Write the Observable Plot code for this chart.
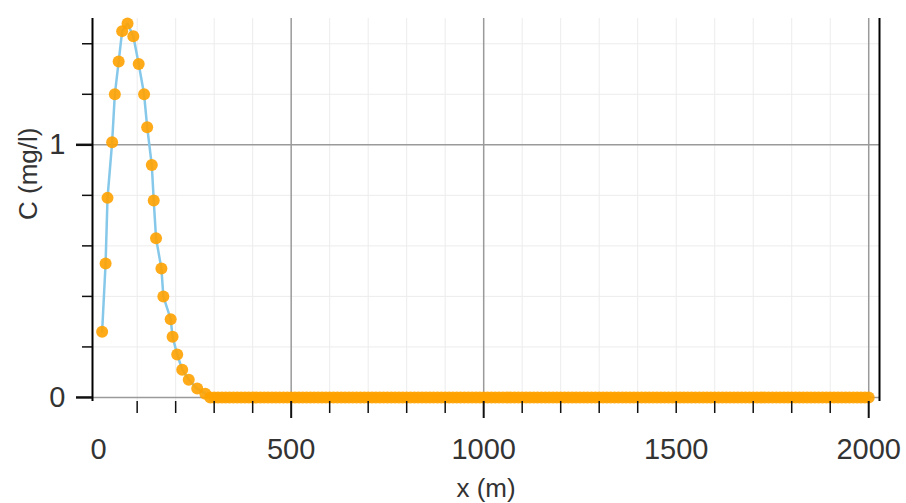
<!DOCTYPE html>
<html>
<head>
<meta charset="utf-8">
<script src="https://cdn.jsdelivr.net/npm/d3@7"></script>
<script src="https://cdn.jsdelivr.net/npm/@observablehq/plot@0.6"></script>
<style>
  html, body { margin: 0; padding: 0; background: white; }
  #chart { width: 906px; height: 503px; overflow: hidden; }
</style>
</head>
<body>
<div id="chart"></div>
<script>
// Concentration profile C (mg/l) vs distance x (m)
const curveX = [9, 18, 23, 35, 42, 52, 61, 75, 90, 104, 118, 126, 138, 143, 149, 163, 168, 187, 192, 204, 217, 234, 256, 277];
const curveC = [0.26, 0.53, 0.79, 1.01, 1.20, 1.33, 1.45, 1.48, 1.43, 1.32, 1.20, 1.07, 0.92, 0.78, 0.63, 0.51, 0.40, 0.31, 0.24, 0.17, 0.11, 0.07, 0.035, 0.015];
// flat tail, read as zero
const tailX = [290, 300, 310, 320, 330, 340, 350, 360, 370, 380, 390, 400, 410, 420, 430, 440, 450, 460, 470, 480, 490,
  500, 510, 520, 530, 540, 550, 560, 570, 580, 590, 600, 610, 620, 630, 640, 650, 660, 670, 680, 690,
  700, 710, 720, 730, 740, 750, 760, 770, 780, 790, 800, 810, 820, 830, 840, 850, 860, 870, 880, 890,
  900, 910, 920, 930, 940, 950, 960, 970, 980, 990, 1000, 1010, 1020, 1030, 1040, 1050, 1060, 1070, 1080, 1090,
  1100, 1110, 1120, 1130, 1140, 1150, 1160, 1170, 1180, 1190, 1200, 1210, 1220, 1230, 1240, 1250, 1260, 1270, 1280, 1290,
  1300, 1310, 1320, 1330, 1340, 1350, 1360, 1370, 1380, 1390, 1400, 1410, 1420, 1430, 1440, 1450, 1460, 1470, 1480, 1490,
  1500, 1510, 1520, 1530, 1540, 1550, 1560, 1570, 1580, 1590, 1600, 1610, 1620, 1630, 1640, 1650, 1660, 1670, 1680, 1690,
  1700, 1710, 1720, 1730, 1740, 1750, 1760, 1770, 1780, 1790, 1800, 1810, 1820, 1830, 1840, 1850, 1860, 1870, 1880, 1890,
  1900, 1910, 1920, 1930, 1940, 1950, 1960, 1970, 1980, 1990, 2000];
const tailC = 0;

const xDomain = [-16, 2028];
const yDomain = [-0.016, 1.5];
const xTickLabels = [0, 500, 1000, 1500, 2000];
const xMajorTicks = [500, 1000, 2000];
const xMinorTicks = [100, 200, 300, 400, 600, 700, 800, 900, 1100, 1200, 1300, 1400, 1500, 1600, 1700, 1800, 1900];
const xGrid = [500, 1000, 2000];
const yMajorTicks = [0, 1];
const yMinorTicks = [0.2, 0.4, 0.6, 0.8, 1.2, 1.4];
const xLabel = "x (m)";
const yLabel = "C (mg/l)";

const data = curveX.map((x, i) => ({x, c: curveC[i]}))
  .concat(tailX.map(x => ({x, c: tailC})));

const font = "Liberation Sans, Arial, sans-serif";
const fmt = d => String(d);

const chart = Plot.plot({
  width: 906,
  height: 503,
  marginTop: 18,
  marginBottom: 102,
  marginLeft: 92,
  marginRight: 27,
  x: {domain: xDomain},
  y: {domain: yDomain},
  style: {fontFamily: font, background: "white", color: "#222"},
  marks: [
    // faint minor grid
    Plot.gridX(xMinorTicks, {stroke: "#ececec", strokeOpacity: 1, strokeWidth: 1}),
    Plot.gridY(yMinorTicks, {stroke: "#ececec", strokeOpacity: 1, strokeWidth: 1}),
    // major grid
    Plot.gridX(xGrid, {stroke: "#9a9a9a", strokeOpacity: 1, strokeWidth: 1.5}),
    Plot.gridY(yMajorTicks, {stroke: "#9a9a9a", strokeOpacity: 1, strokeWidth: 1.5}),
    // data
    Plot.line(data, {x: "x", y: "c", stroke: "#86c8ea", strokeWidth: 2.5}),
    Plot.dot(data, {x: "x", y: "c", r: 6, fill: "#ffa200", fillOpacity: 0.9, stroke: "none"}),
    // frame left / right
    Plot.ruleX([xDomain[0]], {stroke: "black", strokeWidth: 2}),
    Plot.ruleX([xDomain[1]], {stroke: "black", strokeWidth: 2}),
    // x axis ticks & labels
    Plot.axisX(xMinorTicks, {tickSize: 12, tickFormat: () => "", label: null, stroke: "#111", strokeWidth: 1.5}),
    Plot.axisX(xMajorTicks, {tickSize: 17, tickFormat: () => "", label: null, stroke: "#111", strokeWidth: 2}),
    Plot.axisX(xTickLabels, {tickSize: 0, tickPadding: 37, fontSize: 29, tickFormat: fmt, label: null, fill: "#333"}),
    // y axis ticks & labels
    Plot.axisY(yMinorTicks, {tickSize: 10, tickFormat: () => "", label: null, stroke: "#111", strokeWidth: 1.5}),
    Plot.axisY(yMajorTicks, {tickSize: 16, tickPadding: 11, fontSize: 29, tickFormat: fmt, label: null, stroke: "#111", strokeWidth: 2.5, fill: "#333"}),
    // axis titles
    Plot.text([xLabel], {frameAnchor: "bottom", dy: 87, fontSize: 26, fill: "#333", lineAnchor: "middle"}),
    Plot.text([yLabel], {frameAnchor: "left", dx: -64, dy: 10, rotate: -90, fontSize: 26, fill: "#333", lineAnchor: "middle"})
  ]
});

document.getElementById("chart").appendChild(chart);
</script>
</body>
</html>
